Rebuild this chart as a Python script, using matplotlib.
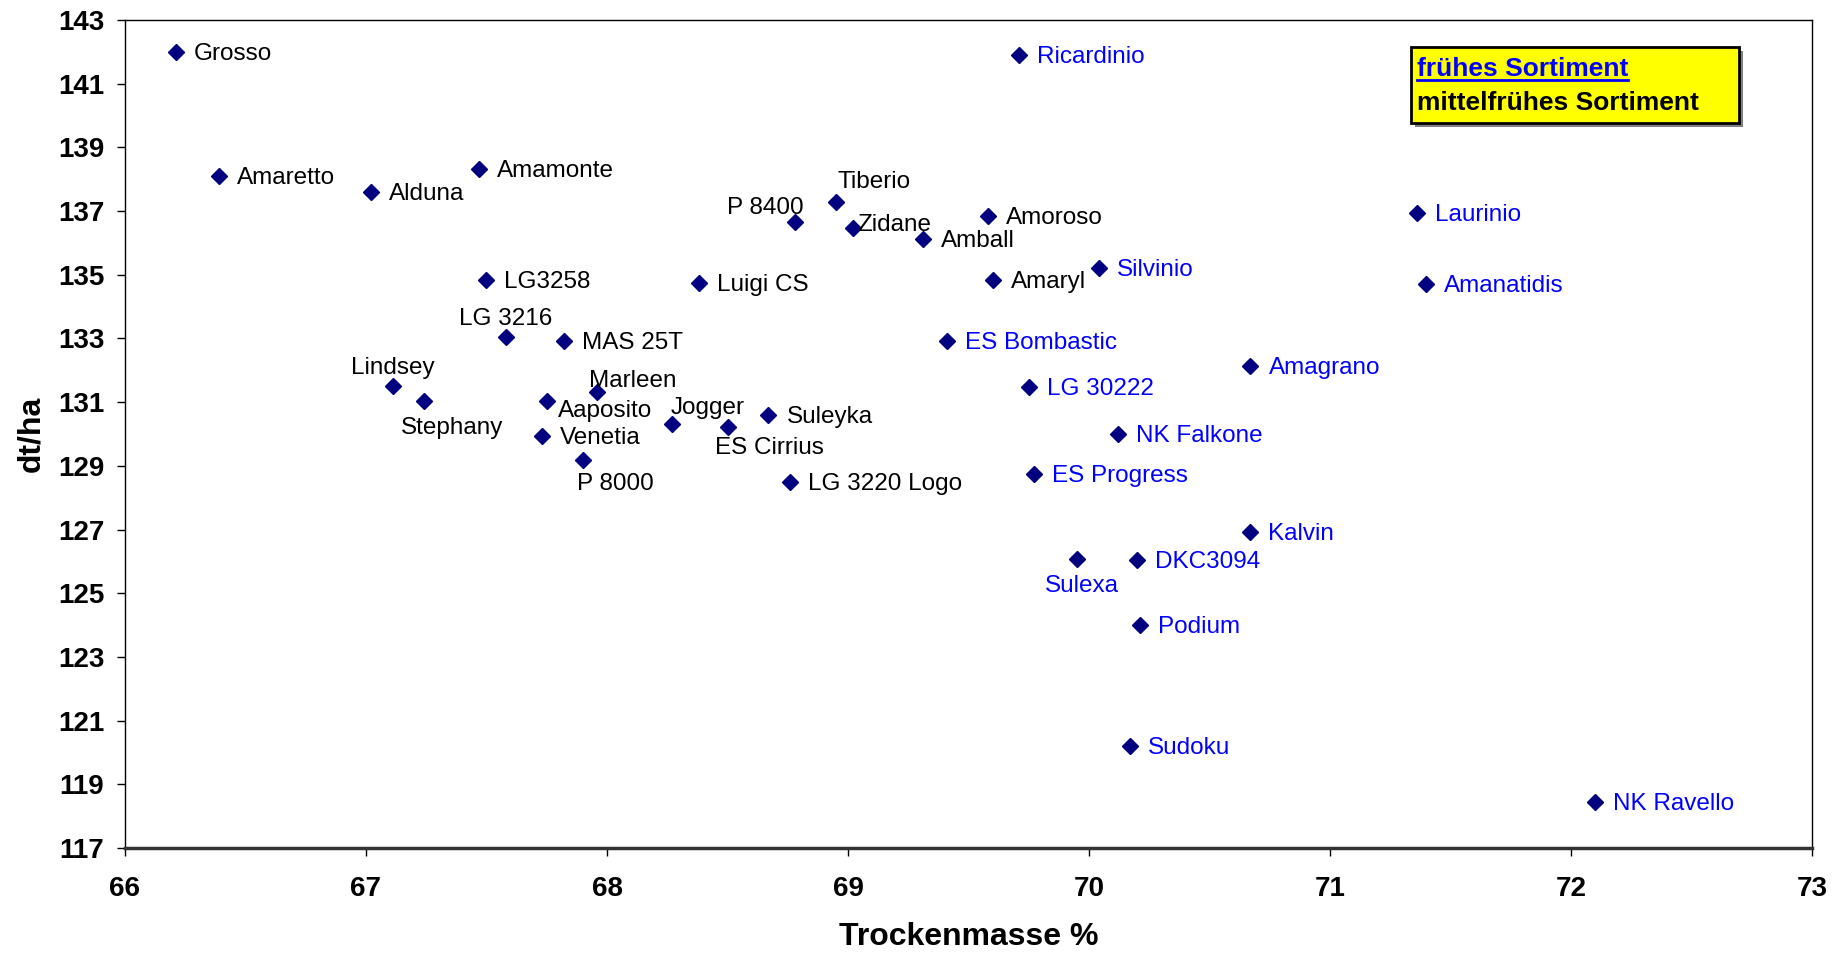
import matplotlib
matplotlib.use('Agg')
import matplotlib.pyplot as plt
from matplotlib.patches import Rectangle
from matplotlib.lines import Line2D

plt.rcParams['font.family'] = ['Liberation Sans', 'DejaVu Sans']

# mittelfrühes Sortiment (black labels)
mid_names = ['Grosso', 'Amaretto', 'Alduna', 'Amamonte', 'LG3258', 'LG 3216', 'MAS 25T',
             'Lindsey', 'Stephany', 'Aaposito', 'Marleen', 'Venetia', 'P 8000', 'Jogger',
             'ES Cirrius', 'Suleyka', 'Luigi CS', 'P 8400', 'Tiberio', 'Zidane', 'Amball',
             'Amoroso', 'Amaryl', 'LG 3220 Logo']
mid_tm = [66.21, 66.39, 67.02, 67.47, 67.50, 67.58, 67.82,
          67.11, 67.24, 67.75, 67.96, 67.73, 67.90, 68.27,
          68.50, 68.67, 68.38, 68.78, 68.95, 69.02, 69.31,
          69.58, 69.60, 68.76]
mid_yield = [141.99, 138.11, 137.59, 138.33, 134.85, 133.04, 132.93,
             131.52, 131.04, 131.04, 131.33, 129.93, 129.19, 130.33,
             130.22, 130.59, 134.74, 136.67, 137.30, 136.48, 136.11,
             136.85, 134.85, 128.48]

# frühes Sortiment (blue labels)
early_names = ['Ricardinio', 'Silvinio', 'ES Bombastic', 'LG 30222', 'NK Falkone',
               'ES Progress', 'Amagrano', 'Kalvin', 'Sulexa', 'DKC3094', 'Podium',
               'Sudoku', 'NK Ravello', 'Laurinio', 'Amanatidis']
early_tm = [69.71, 70.04, 69.41, 69.75, 70.12,
            69.77, 70.67, 70.67, 69.95, 70.20, 70.21,
            70.17, 72.10, 71.36, 71.40]
early_yield = [141.89, 135.22, 132.93, 131.48, 130.00,
               128.74, 132.15, 126.93, 126.07, 126.04, 124.00,
               120.19, 118.44, 136.93, 134.70]

# label placement (pixel offset from marker, alignment) where not default
special = {
    'P 8400': (9, 16, 'right'),
    'Tiberio': (2, 22, 'left'),
    'Zidane': (4, 5, 'left'),
    'Lindsey': (0, 20, 'center'),
    'Stephany': (28, -25, 'center'),
    'Marleen': (-8, 13, 'left'),
    'Aaposito': (11, -8, 'left'),
    'P 8000': (-6, -22, 'left'),
    'Jogger': (-1, 18, 'left'),
    'ES Cirrius': (-13, -19, 'left'),
    'LG 3216': (0, 20, 'center'),
    'Sulexa': (5, -25, 'center'),
}

fig = plt.figure(figsize=(18.49, 9.58), dpi=100)
ax = fig.add_axes([0.0676, 0.1148, 0.9124, 0.8643])

marker_color = '#000080'
ax.plot(mid_tm + early_tm, mid_yield + early_yield, linestyle='none', marker='D',
        markersize=8, color=marker_color)


def put_labels(names, xs, ys, color):
    for n, x, y in zip(names, xs, ys):
        dx, dy, ha = special.get(n, (18, 0, 'left'))
        ax.annotate(n, (x, y), xytext=(dx, dy - 2), textcoords='offset pixels',
                    ha=ha, va='center', fontsize=17.5, color=color)


put_labels(mid_names, mid_tm, mid_yield, 'black')
put_labels(early_names, early_tm, early_yield, '#0000FF')

ax.set_xlim(66, 73)
ax.set_ylim(117, 143)
ax.set_xticks(range(66, 74))
ax.set_yticks(range(117, 144, 2))
ax.tick_params(direction='out', length=6, width=1, labelsize=20)
ax.tick_params(axis='y', pad=9)
ax.tick_params(axis='x', pad=14)
for lab in ax.get_xticklabels() + ax.get_yticklabels():
    lab.set_fontweight('bold')
for s in ['top', 'right', 'left']:
    ax.spines[s].set_linewidth(1)
    ax.spines[s].set_color('black')
ax.spines['bottom'].set_linewidth(2.5)
ax.spines['bottom'].set_color('#333333')

ax.set_xlabel('Trockenmasse %', fontsize=23, fontweight='bold')
ax.set_ylabel('dt/ha', fontsize=23, fontweight='bold')
ax.xaxis.set_label_coords(0.5, -(922 - 848) / 828)
ax.yaxis.set_label_coords(-(125 - 46) / 1687, 0.5)

# legend box
bx, by, bw, bh = 1411 / 1849, 1 - 123 / 958, 328 / 1849, 76 / 958
fig.patches.append(Rectangle((bx + 0.002, by - 0.004), bw, bh, transform=fig.transFigure,
                             facecolor='#808080', edgecolor='none', zorder=5))
fig.patches.append(Rectangle((bx, by), bw, bh, transform=fig.transFigure,
                             facecolor='#FFFF00', edgecolor='black', linewidth=2, zorder=6))
t1 = fig.text(1417 / 1849, 1 - 69 / 958, 'frühes Sortiment', color='#0000FF',
              fontsize=19, fontweight='bold', va='center', ha='left', zorder=7)
fig.text(1417 / 1849, 1 - 103 / 958, 'mittelfrühes Sortiment', color='black',
         fontsize=19, fontweight='bold', va='center', ha='left', zorder=7)

fig.canvas.draw()
bb = t1.get_window_extent().transformed(fig.transFigure.inverted())
fig.lines.append(Line2D([bb.x0, bb.x1], [bb.y0 + 0.001, bb.y0 + 0.001], transform=fig.transFigure,
                        color='#0000FF', linewidth=2, zorder=8))

fig.savefig('out.png', dpi=100)
